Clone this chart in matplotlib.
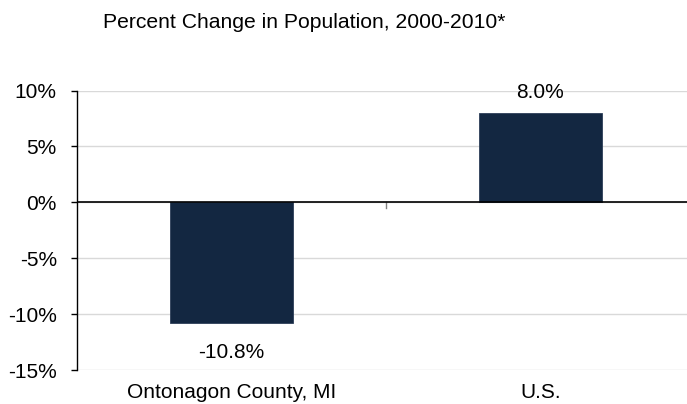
import numpy as np
import matplotlib.pyplot as plt

# chart data
categories = ["Ontonagon County, MI", "U.S."]
pct_change = [-10.8, 8.0]
bar_labels = ["-10.8%", "8.0%"]
yticks = [-15, -10, -5, 0, 5, 10]
ytick_labels = ["-15%", "-10%", "-5%", "0%", "5%", "10%"]

plt.rcParams['font.family'] = ['Liberation Sans', 'DejaVu Sans']

fig = plt.figure(figsize=(6.87, 4.04), dpi=100)
ax = fig.add_axes([77/687, 34/404, 618/687, 279.5/404])

x = np.arange(len(categories))
bars = ax.bar(x, pct_change, width=0.4, color='#132741', edgecolor='#2c3e58',
              linewidth=0.6, zorder=3)

# value labels
for xi, v, lab in zip(x, pct_change, bar_labels):
    if v >= 0:
        ax.text(xi, v + 1.0, lab, ha='center', va='bottom', fontsize=15)
    else:
        ax.text(xi, v - 1.8, lab, ha='center', va='top', fontsize=15)

ax.set_xlim(-0.5, 1.5)
ax.set_ylim(-15, 10)
ax.set_yticks(yticks)
ax.set_yticklabels(ytick_labels, fontsize=15)
ax.yaxis.grid(True, color='#d9d9d9', linewidth=1, zorder=0)
ax.tick_params(axis='y', length=4.5, width=1, color='black', pad=10)

# category labels sit under the plot, tick on zero line between them
ax.set_xticks([])
for xi, c in zip(x, categories):
    ax.text(xi, -16.2, c, ha='center', va='top', fontsize=15)
ax.plot([0.5, 0.5], [0, -0.5], color='#808080', linewidth=1, zorder=4)
ax.axhline(0, color='black', linewidth=1.2, zorder=4)

for s in ['top', 'right', 'bottom']:
    ax.spines[s].set_visible(False)
ax.spines['left'].set_color('black')
ax.spines['left'].set_linewidth(1)

fig.text(103/687, 1 - 22/404, "Percent Change in Population, 2000-2010*",
         ha='left', va='center', fontsize=15.2)

fig.savefig('out.png', dpi=100)
